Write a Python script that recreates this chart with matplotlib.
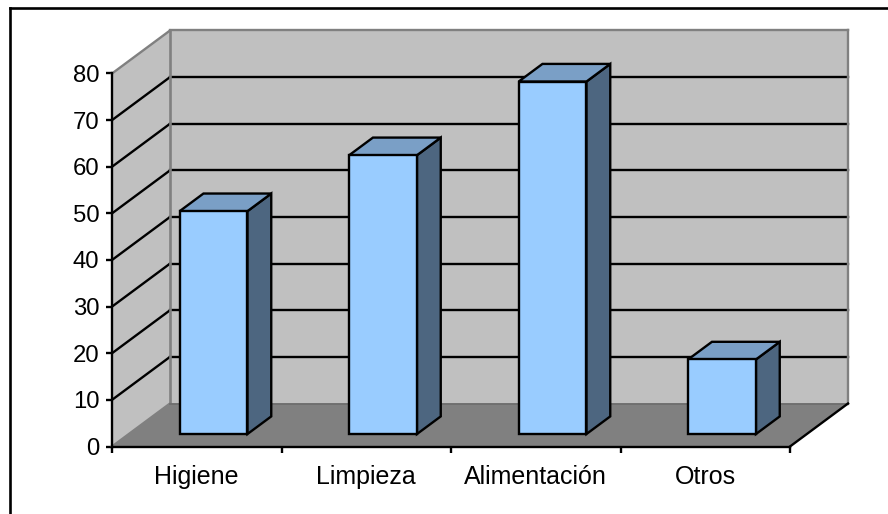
import matplotlib
matplotlib.use("Agg")
import matplotlib.pyplot as plt
from matplotlib.lines import Line2D
from matplotlib.patches import Polygon

categories = ["Higiene", "Limpieza", "Alimentación", "Otros"]
values = [47.8, 59.8, 75.6, 16]
y_ticks = [0, 10, 20, 30, 40, 50, 60, 70, 80]

plt.rcParams["font.family"] = ["Liberation Sans", "DejaVu Sans"]
W, H = 888, 514
fig = plt.figure(figsize=(W / 100, H / 100), dpi=100, facecolor="white")
ax = fig.add_axes([112 / W, (H - 446.5) / H, 678 / W, 373 / H], facecolor="none")
n = len(categories)
ax.set_xlim(0, n)
ax.set_ylim(0, 80)

DX = 58 / (678 / 4)   # oblique shift of the full depth, in category units
DY = 43 / (373 / 80)  # oblique shift of the full depth, in value units
BAR_W = 0.40
Z0, Z1 = 0.29, 0.70
LW = 1.7


def P(x, y, z=0.0):
    return (x + DX * z, y + DY * z)


def poly(points, fc, ec="none", lw=0.0, z=1):
    ax.add_patch(Polygon(points, closed=True, facecolor=fc, edgecolor=ec, linewidth=lw,
                         zorder=z, clip_on=False, joinstyle="miter"))


def seg(a, b, c="black", lw=LW, z=2):
    ax.add_line(Line2D([a[0], b[0]], [a[1], b[1]], color=c, lw=lw, zorder=z, clip_on=False))


wall = "#C0C0C0"
floor = "#808080"
ymax = y_ticks[-1]
poly([P(0, 0, 1), P(n, 0, 1), P(n, ymax, 1), P(0, ymax, 1)], wall)
poly([P(0, 0), P(0, 0, 1), P(0, ymax, 1), P(0, ymax)], wall)
poly([P(0, 0), P(n, 0), P(n, 0, 1), P(0, 0, 1)], floor)

for v in y_ticks[1:-1]:
    seg(P(0, v), P(0, v, 1))
    seg(P(0, v, 1), P(n, v, 1))
seg(P(0, ymax, 1), P(n, ymax, 1), c="#808080", lw=LW)
seg(P(0, ymax), P(0, ymax, 1), c="#808080", lw=LW)
seg(P(0, 0, 1), P(0, ymax, 1), c="#808080", lw=LW + 0.2, z=3)
seg(P(n, 0, 1), P(n, ymax, 1), c="#808080", lw=LW, z=3)
seg(P(0, 0), P(0, 0, 1), c="#808080", lw=LW, z=3)
seg(P(0, 0, 1), P(n, 0, 1), c="#6E6E6E", lw=LW - 0.4, z=3)
seg(P(n, 0), P(n, 0, 1), c="black", lw=LW, z=3)

front, top, side = "#99CCFF", "#7A9FC6", "#4D6680"
for i, v in enumerate(values):
    x0, x1 = i + 0.5 - BAR_W / 2, i + 0.5 + BAR_W / 2
    poly([P(x1, 0, Z0), P(x1, 0, Z1), P(x1, v, Z1), P(x1, v, Z0)], side, "black", LW, 5)
    poly([P(x0, v, Z0), P(x1, v, Z0), P(x1, v, Z1), P(x0, v, Z1)], top, "black", LW, 5)
    poly([P(x0, 0, Z0), P(x1, 0, Z0), P(x1, v, Z0), P(x0, v, Z0)], front, "black", LW, 6)

for s in ["top", "right"]:
    ax.spines[s].set_visible(False)
for s in ["left", "bottom"]:
    ax.spines[s].set_linewidth(LW)
    ax.spines[s].set_zorder(4)

ax.set_yticks(y_ticks)
ax.set_xticks(range(n + 1))
ax.set_xticklabels([])
ax.set_xticks([i + 0.5 for i in range(n)], minor=True)
ax.set_xticklabels(categories, minor=True)
ax.tick_params(axis="y", labelsize=17.2, length=4.2, width=LW, pad=5)
ax.tick_params(axis="x", which="major", length=4.2, width=LW)
ax.tick_params(axis="x", which="minor", length=0, labelsize=18, pad=13)

fig.add_artist(Line2D([10 / W, 10 / W], [0, 1 - 8 / H], color="black", lw=LW + 0.2,
                      transform=fig.transFigure, solid_capstyle="projecting"))
fig.add_artist(Line2D([10 / W, 1], [1 - 8 / H, 1 - 8 / H], color="black", lw=LW + 0.2,
                      transform=fig.transFigure, solid_capstyle="projecting"))

fig.savefig("out.png", dpi=100, facecolor="white")
